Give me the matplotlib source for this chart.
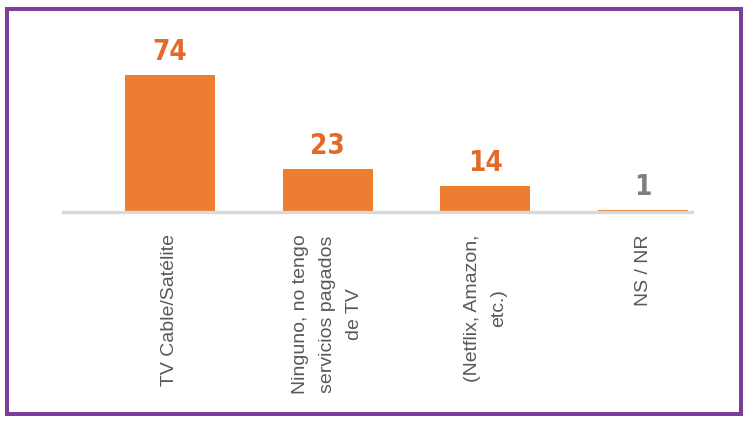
import numpy as np
import matplotlib.pyplot as plt
from matplotlib import font_manager
from matplotlib.patches import Rectangle

# datos
categorias = ["TV Cable/Satélite",
              "Ninguno, no tengo\nservicios pagados\nde TV",
              "(Netflix, Amazon,\netc.)",
              "NS / NR"]
valores = [74, 23, 14, 1]

# estilo
color_barra = "#ED7D31"
color_etiqueta = ["#E4692A", "#E4692A", "#E4692A", "#7F7F7F"]


def fuente_numeros():
    # fuente estrecha y negrita si hay alguna instalada
    cands = []
    for f in font_manager.fontManager.ttflist:
        estrecha = ("Narrow" in f.name or "Condensed" in f.name
                    or f.stretch in ("condensed", "semi-condensed", 500 - 125))
        w = f.weight if isinstance(f.weight, int) else \
            font_manager.weight_dict.get(f.weight, 400)
        if estrecha and w >= 600 and f.style == "normal":
            cands.append((abs(w - 700), f.fname))
    if cands:
        cands.sort()
        return font_manager.FontProperties(fname=cands[0][1], size=20)
    return font_manager.FontProperties(family="Liberation Sans",
                                       weight="bold", size=20)


fp_num = fuente_numeros()

W, H = 750, 423
fig = plt.figure(figsize=(W / 100, H / 100), dpi=100)

# marco morado
fig.patches.append(Rectangle((7 / W, 9 / H), 734 / W, 405 / H,
                             transform=fig.transFigure, fill=False,
                             edgecolor="#7B3F99", linewidth=2.9))

ax = fig.add_axes([63 / W, (H - 212) / H, 629 / W, 148 / H])

x = np.arange(len(valores))
ax.bar(x, valores, width=0.57, color=color_barra, zorder=2)

for xi, v, c in zip(x, valores, color_etiqueta):
    ax.annotate(str(v), (xi, v), xytext=(0, 10.8), textcoords="offset points",
                ha="center", va="baseline", fontproperties=fp_num, color=c)

ax.set_xlim(-0.677, 3.309)
ax.set_ylim(0, 80)

ax.set_xticks(x)
ax.set_xticklabels(categorias, rotation=90, ha="center", va="top",
                   multialignment="center", linespacing=1.75, fontsize=14,
                   color="#595959", family="Liberation Sans")
ax.tick_params(axis="x", length=0, pad=16)
ax.set_yticks([])

for s in ["top", "left", "right"]:
    ax.spines[s].set_visible(False)
ax.spines["bottom"].set_color("#D9D9D9")
ax.spines["bottom"].set_linewidth(2.4)
ax.spines["bottom"].set_zorder(3)

fig.savefig("out.png", dpi=100)
